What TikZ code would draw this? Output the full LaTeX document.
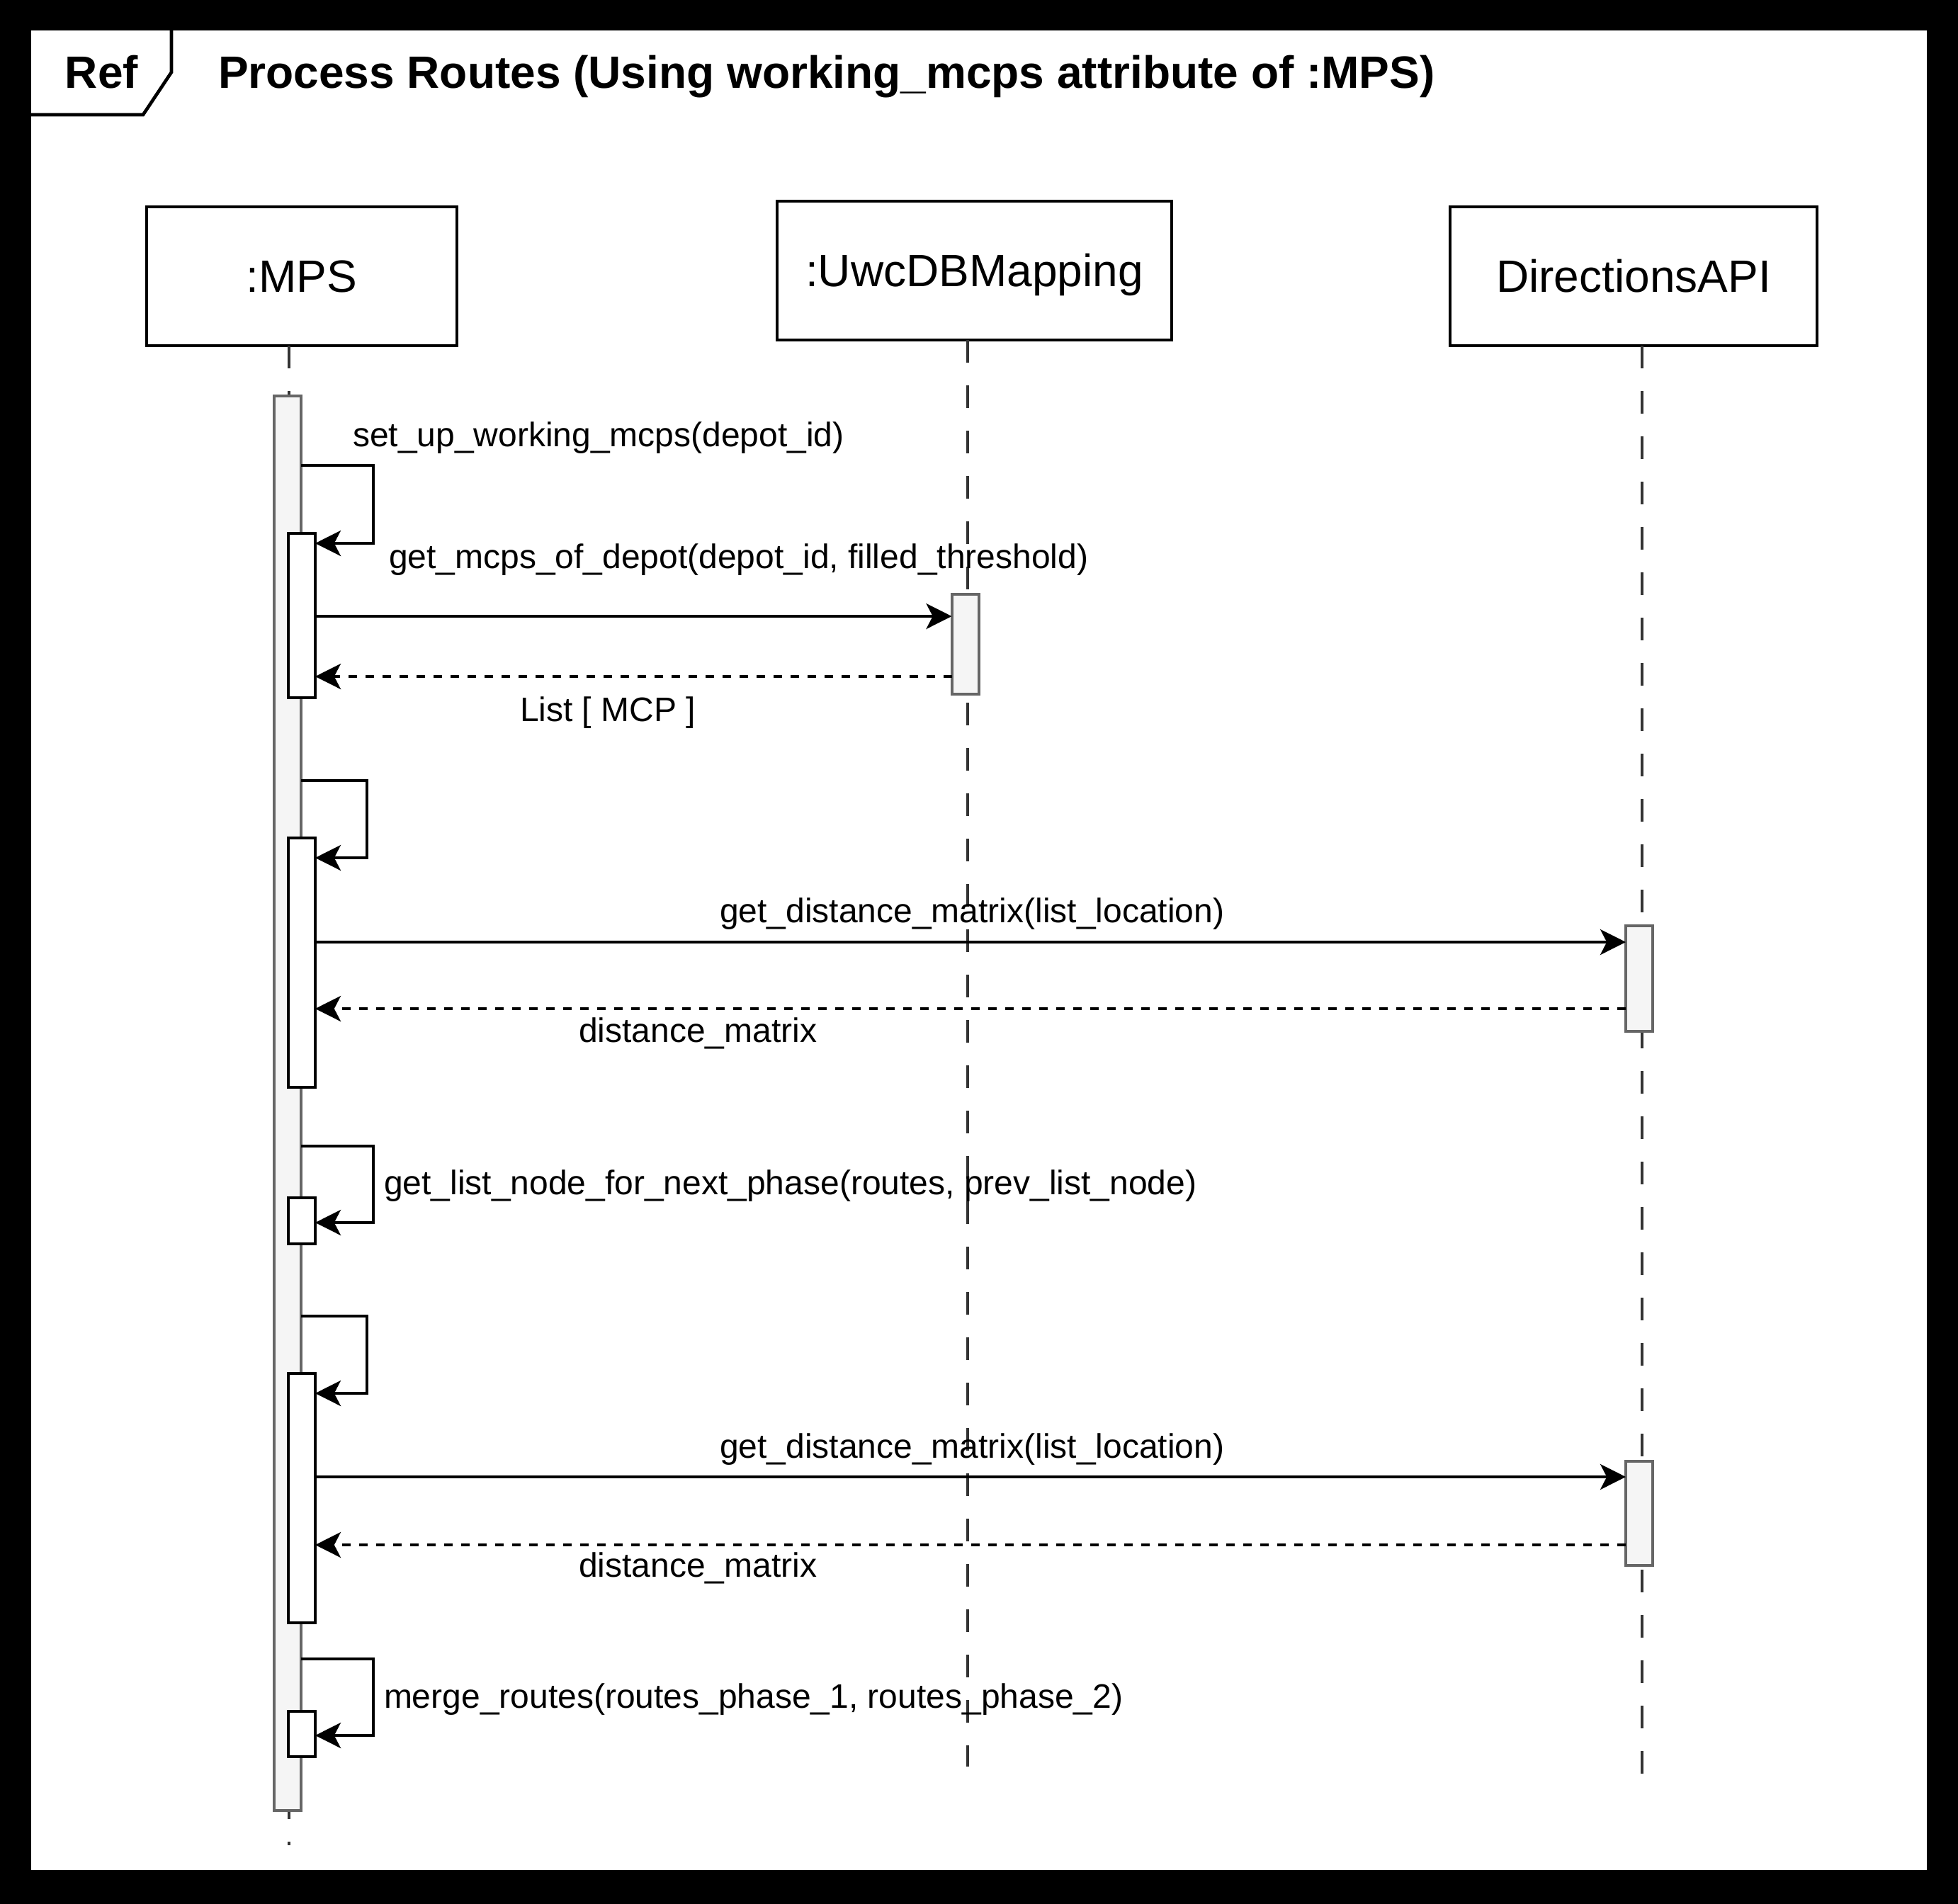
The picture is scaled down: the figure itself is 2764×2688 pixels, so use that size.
\documentclass[tikz,border=0pt]{standalone}
\usepackage{fontspec}
\setmainfont{Liberation Sans}
\usetikzlibrary{arrows.meta}
\definecolor{barfill}{HTML}{F5F5F5}
\definecolor{bargray}{HTML}{666666}
\definecolor{lifegray}{HTML}{333333}
\begin{document}
\begin{tikzpicture}[x=0.25pt,y=-0.25pt,
  every node/.style={inner sep=0pt,outer sep=0pt},
  head/.style={draw=black,fill=white,line width=1.05pt,font=\fontsize{16}{19}\selectfont,text height=11.2pt,text depth=0pt},
  bar/.style={draw=bargray,fill=barfill,line width=1pt,minimum width=9.5pt},
  act/.style={draw=black,fill=white,line width=1pt,minimum width=9.5pt},
  life/.style={draw=lifegray,line width=1pt,dash pattern=on 8pt off 8pt},
  msg/.style={draw=black,line width=1pt,-{Stealth[length=9pt,width=9pt,inset=2.3pt]}},
  ret/.style={msg,dash pattern=on 3pt off 3pt},
  lbl/.style={font=\fontsize{12}{14}\selectfont,anchor=base west},
  ttl/.style={font=\bfseries\fontsize{16}{19}\selectfont,anchor=base west}]
\useasboundingbox (0,0) rectangle (2764,2688);
\fill[black] (0,0) rectangle (2764,2688);
\fill[white] (44,43) rectangle (2720,2640);
% frame tab
\draw[line width=1.15pt] (242,43) -- (242,102) -- (202,162) -- (44,162);
\node[ttl,anchor=base] (reftxt) at (143.5,124) {Ref};
\node[ttl] (title) at (308,124) {Process Routes (Using working\_mcps attribute of :MPS)};
% heads
\node[head,minimum width=109.5pt,minimum height=49pt] (mps) at (426,390) {:MPS};
\node[head,minimum width=139.25pt,minimum height=49pt] (uwc) at (1375.5,382) {:UwcDBMapping};
\node[head,minimum width=129.5pt,minimum height=49pt] (dir) at (2306,390) {DirectionsAPI};
% lifelines
\coordinate (mpsEnd) at (408,2605);
\coordinate (uwcEnd) at (1366,2494);
\coordinate (dirEnd) at (2318,2512);
\draw[life] (mpsEnd |- mps.south) -- (mpsEnd);
\draw[life] (uwcEnd |- uwc.south) -- (uwcEnd);
\draw[life] (dirEnd |- dir.south) -- (dirEnd);
% activation bars
\node[bar,minimum height=499.25pt] (mpsbar) at (406,1557.5) {};
\node[act,minimum height=58pt] (a1) at (426,869) {};
\node[act,minimum height=88pt] (a2) at (426,1359) {};
\node[act,minimum height=16.25pt] (a3) at (426,1723.5) {};
\node[act,minimum height=88pt] (a4) at (426,2115) {};
\node[act,minimum height=16pt] (a5) at (426,2448) {};
\node[bar,minimum height=35.25pt] (u1) at (1362.5,909.5) {};
\node[bar,minimum height=37.25pt] (d1) at (2314,1381.5) {};
\node[bar,minimum height=36.75pt] (d2) at (2314,2136.5) {};
% self calls
\draw[msg] (mpsbar.east |- 0,657) -- (527,657) -- (527,767) -- (a1.east |- 0,767);
\draw[msg] (mpsbar.east |- 0,1102) -- (518,1102) -- (518,1211) -- (a2.east |- 0,1211);
\draw[msg] (mpsbar.east |- 0,1618) -- (527,1618) -- (527,1726) -- (a3.east |- 0,1726);
\draw[msg] (mpsbar.east |- 0,1858) -- (518,1858) -- (518,1967) -- (a4.east |- 0,1967);
\draw[msg] (mpsbar.east |- 0,2342) -- (527,2342) -- (527,2450) -- (a5.east |- 0,2450);
% messages
\draw[msg] (a1.east |- 0,870) -- (u1.west |- 0,870);
\draw[ret] (u1.west |- 0,955) -- (a1.east |- 0,955);
\draw[msg] (a2.east |- 0,1330) -- (d1.west |- 0,1330);
\draw[ret] (d1.west |- 0,1424) -- (a2.east |- 0,1424);
\draw[msg] (a4.east |- 0,2085) -- (d2.west |- 0,2085);
\draw[ret] (d2.west |- 0,2181) -- (a4.east |- 0,2181);
% labels
\node[lbl] (l1) at (498,630) {set\_up\_working\_mcps(depot\_id)};
\node[lbl] (l2) at (549,802) {get\_mcps\_of\_depot(depot\_id, filled\_threshold)};
\node[lbl] (l3) at (734,1018) {List [ MCP ]};
\node[lbl] (l4) at (1016,1302) {get\_distance\_matrix(list\_location)};
\node[lbl] (l5) at (817,1471) {distance\_matrix};
\node[lbl] (l6) at (542,1686) {get\_list\_node\_for\_next\_phase(routes, prev\_list\_node)};
\node[lbl] (l7) at (1016,2058) {get\_distance\_matrix(list\_location)};
\node[lbl] (l8) at (817,2226) {distance\_matrix};
\node[lbl] (l9) at (542,2411) {merge\_routes(routes\_phase\_1, routes\_phase\_2)};
\end{tikzpicture}
\end{document}
